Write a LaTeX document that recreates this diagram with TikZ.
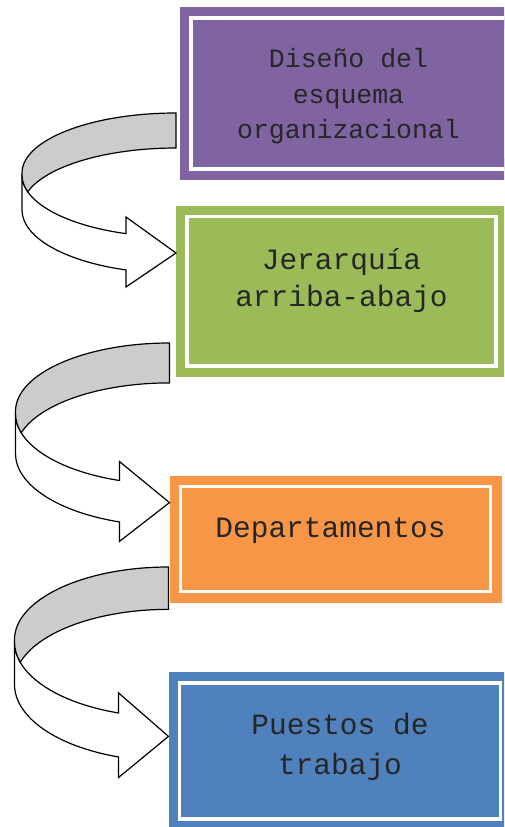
\documentclass[tikz,border=0pt]{standalone}
\usepackage{fontspec}
\setmonofont{Liberation Mono}

\definecolor{boxpurple}{HTML}{8064A2}
\definecolor{boxgreen}{HTML}{9BBB59}
\definecolor{boxorange}{HTML}{F79646}
\definecolor{boxblue}{HTML}{4F81BD}

\tikzset{
  uturn/.pic={
    \draw[band] (-154,-62) -- (-154,-97)
      arc[start angle=180, end angle=251.05, x radius=154, y radius=63.4]
      -- (-50,-174) -- (0,-140) -- (-50,-104) -- (-50,-120.64)
      arc[start angle=251.05, end angle=180, x radius=154, y radius=62] -- cycle;
    \draw[band, fill=black!20] (0,0)
      arc[start angle=90, end angle=180, x radius=154, y radius=60]
      -- (-154,-62)
      arc[start angle=180, end angle=195.7, x radius=154, y radius=62]
      arc[start angle=164.3, end angle=90, x radius=154, y radius=60] -- cycle;
  }
}

\begin{document}
\begin{tikzpicture}[
  x=1pt, y=1pt,
  font=\ttfamily,
  panel/.style={
    draw=white,
    line width=3.5pt,
    fill=#1,
    preaction={draw=#1, line width=22pt},
    inner sep=0pt,
    outer sep=11pt
  },
  caption/.style={
    align=center,
    inner sep=0pt,
    text=black!85
  },
  band/.style={
    draw=black,
    fill=white,
    line width=1.2pt,
    line join=miter
  }
]
\useasboundingbox (0,0) rectangle (504,-827);
\clip (0,0) rectangle (504,-827);

\node[panel=boxpurple, minimum width=325pt, minimum height=151pt] (design) at (353.5,-93.5) {};
\node[panel=boxgreen, minimum width=309pt, minimum height=149.5pt] (hierarchy) at (341.5,-291.25) {};
\node[panel=boxorange, minimum width=310pt, minimum height=105pt] (depts) at (335.5,-539) {};
\node[panel=boxblue, minimum width=321pt, minimum height=136pt] (jobs) at (340,-751) {};

\node[caption, font=\ttfamily\fontsize{26.5}{35.5}\selectfont] (designtext)
  at ([xshift=-5pt, yshift=-3pt]design.center) {Diseño del\\esquema\\organizacional};
\node[caption, font=\ttfamily\fontsize{29.5}{37}\selectfont] (hierarchytext)
  at ([yshift=11pt]hierarchy.center) {Jerarquía\\arriba-abajo};
\node[caption, font=\ttfamily\fontsize{29.5}{36}\selectfont] (deptstext)
  at ([xshift=-5pt, yshift=8pt]depts.center) {Departamentos};
\node[caption, font=\ttfamily\fontsize{29.5}{40}\selectfont] (jobstext)
  at ([yshift=4pt]jobs.center) {Puestos de\\trabajo};

\pic (turnA) at (hierarchy.west |- 0,-113) {uturn};
\pic[yscale=1.14] (turnB) at (depts.west |- 0,-343) {uturn};
\pic[yscale=1.21] (turnC) at (jobs.west |- 0,-567) {uturn};

\end{tikzpicture}
\end{document}
